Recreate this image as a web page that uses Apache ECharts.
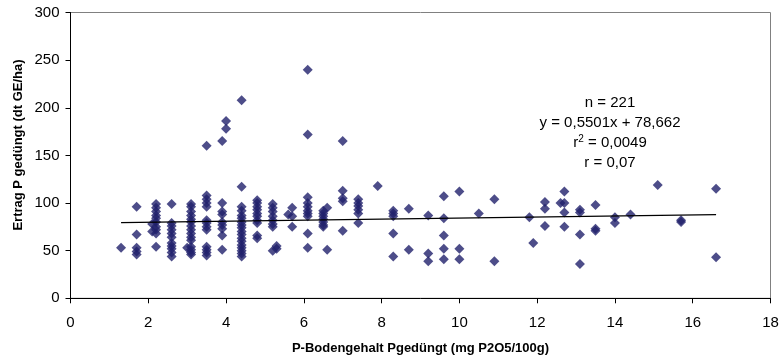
<!DOCTYPE html>
<html>
<head>
<meta charset="utf-8">
<script src="https://cdn.jsdelivr.net/npm/echarts@6/dist/echarts.min.js"></script>
<style>
html,body{margin:0;padding:0;background:#fff;}
#chart{width:780px;height:358px;}
</style>
</head>
<body>
<div id="chart"></div>
<script>
// x positions of point columns (mg P2O5/100g)
const columnX = [
  1.3, 1.7, 2.1, 2.2, 2.6, 3.0, 3.1, 3.5, 3.9, 4.0, 4.4, 4.8, 5.2, 5.3, 5.6, 5.7,
  6.1, 6.5, 6.6, 7.0, 7.4, 7.9, 8.3, 8.7, 9.2, 9.6, 10.0, 10.5, 10.9,
  11.8, 11.9, 12.2, 12.6, 12.7, 13.1, 13.5, 14.0, 14.4, 15.1, 15.7, 16.6
];
// yield values (dt GE/ha) for each column above
const columnY = [
  [53],
  [96, 67, 53, 49, 46],
  [70, 78],
  [99, 95, 91, 87, 84, 80, 75, 72, 68, 54],
  [99, 79, 76, 72, 68, 64, 58, 55, 52, 48, 44],
  [53],
  [99, 96, 91, 87, 83, 80, 76, 72, 68, 64, 61, 54, 51, 48, 46],
  [108, 104, 100, 96, 82, 79, 75, 72, 54, 51, 48, 45, 160],
  [100, 91, 88, 80, 77, 73, 66, 51, 165],
  [178, 186],
  [117, 96, 92, 87, 84, 80, 77, 74, 70, 67, 63, 60, 56, 53, 50, 47, 44, 208],
  [103, 100, 96, 93, 89, 86, 82, 79, 66, 63],
  [99, 95, 91, 86, 82, 78, 75, 50],
  [52, 55],
  [88],
  [95, 86, 75],
  [106, 100, 96, 92, 89, 86, 68, 53, 172, 240],
  [92, 89, 86, 83, 80, 77, 75],
  [95, 51],
  [113, 105, 102, 71, 165],
  [104, 100, 97, 93, 89, 79],
  [118],
  [92, 89, 86, 68, 44],
  [94, 51],
  [87, 47, 39],
  [107, 84, 66, 52, 41],
  [112, 52, 41],
  [89],
  [104, 39],
  [85],
  [58],
  [101, 94, 76],
  [100],
  [112, 100, 90, 75],
  [93, 90, 67, 36],
  [98, 73, 71],
  [85, 79],
  [88],
  [119],
  [82, 80],
  [115, 43]
];
// regression line end points
const trendX = [1.3, 16.6];
const trendY = [79.4, 87.8];
const xTicks = [0, 2, 4, 6, 8, 10, 12, 14, 16, 18];
const yTicks = [0, 50, 100, 150, 200, 250, 300];
const statsLines = ['{a|n = 221}', '{a|y = 0,5501x + 78,662}', '{a|r}{s|2}{a| = 0,0049}', '{a|r = 0,07}'];

const points = [];
columnX.forEach((x, i) => columnY[i].forEach(y => points.push([x, y])));

const chart = echarts.init(document.getElementById('chart'), null, {renderer: 'canvas'});
const font = 'Arial, "Liberation Sans", sans-serif';
chart.setOption({
  animation: false,
  grid: {left: 70.5, right: 9.5, top: 12.5, bottom: 59.7, show: true, borderColor: '#808080', borderWidth: 1,
    containLabel: false, outerBoundsMode: 'none'},
  xAxis: {
    type: 'value', min: xTicks[0], max: xTicks[xTicks.length - 1], interval: 2,
    name: 'P-Bodengehalt Pgedüngt (mg P2O5/100g)', nameLocation: 'middle', nameGap: 44,
    nameTextStyle: {fontFamily: font, fontWeight: 'bold', fontSize: 13, color: '#000'},
    axisLine: {lineStyle: {color: '#000', width: 1}},
    axisTick: {inside: false, length: 5, lineStyle: {color: '#000'}},
    axisLabel: {fontFamily: font, fontSize: 15, color: '#000', margin: 17},
    splitLine: {show: false}
  },
  yAxis: {
    type: 'value', min: yTicks[0], max: yTicks[yTicks.length - 1], interval: 50,
    axisLine: {show: true, lineStyle: {color: '#000', width: 1}},
    axisTick: {show: true, inside: false, length: 5, lineStyle: {color: '#000'}},
    axisLabel: {fontFamily: font, fontSize: 15, color: '#000', margin: 11},
    splitLine: {show: false}
  },
  graphic: [
    {
      type: 'text', x: 18, y: 145, rotation: Math.PI / 2,
      style: {text: 'Ertrag P gedüngt (dt GE/ha)', fontFamily: font, fontWeight: 'bold', fontSize: 13,
        fill: '#000', align: 'center', verticalAlign: 'middle'}
    },
    ...statsLines.map((t, i) => ({
      type: 'text', x: 610, y: 103 + i * 20,
      style: {
        text: t, align: 'center', verticalAlign: 'middle',
        rich: {
          a: {fontFamily: font, fontSize: 15, fill: '#000', lineHeight: 17},
          s: {fontFamily: font, fontSize: 10, fill: '#000', verticalAlign: 'top', lineHeight: 17, padding: [0, 0, 6, 0]}
        }
      }
    }))
  ],
  series: [
    {
      type: 'scatter', data: points, symbol: 'diamond', symbolSize: [10, 10],
      itemStyle: {color: '#20206c'}, z: 3
    },
    {
      type: 'line', data: trendX.map((x, i) => [x, trendY[i]]), symbol: 'none',
      lineStyle: {color: '#000', width: 1.2}, z: 4, silent: true
    }
  ]
});
</script>
</body>
</html>
